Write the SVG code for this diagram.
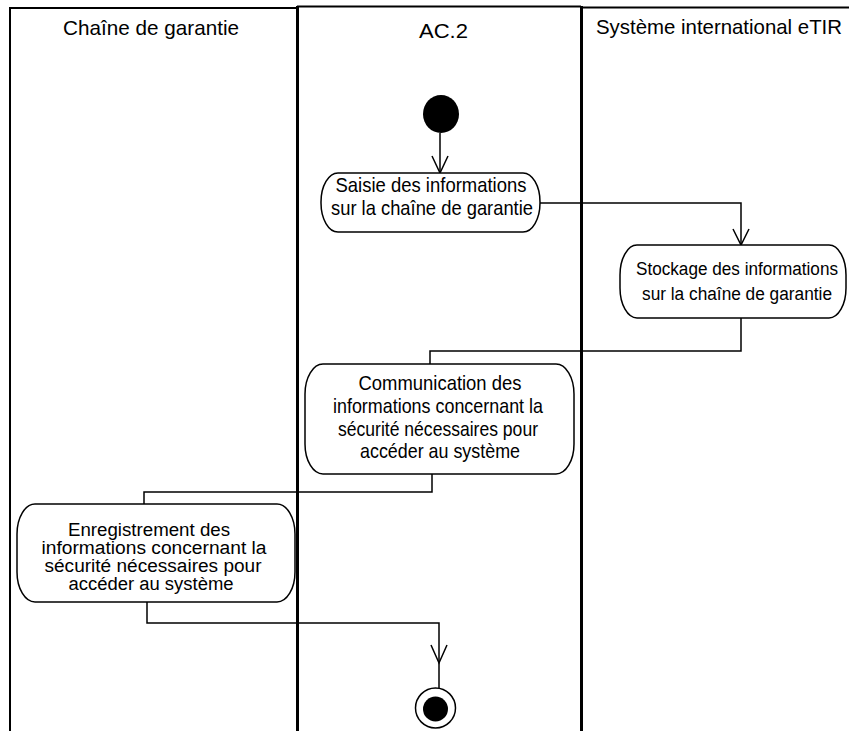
<svg xmlns="http://www.w3.org/2000/svg" width="849" height="731" viewBox="0 0 849 731">
<style>
  .lane{fill:none;stroke:#000;stroke-width:2}
  .div{fill:none;stroke:#000;stroke-width:3}
  .act{fill:#fff;stroke:#000;stroke-width:1.5}
  .t{font-family:"Liberation Sans",Arial,sans-serif;font-size:21px;fill:#000;text-anchor:middle}
  .t2{font-family:"Liberation Sans",Arial,sans-serif;font-size:18px;fill:#000;text-anchor:middle}
  .t4{font-family:"Liberation Sans",Arial,sans-serif;font-size:18px;fill:#000;text-anchor:middle}
  .c{fill:none;stroke:#000;stroke-width:1.5}
</style>
<rect width="849" height="731" fill="#fff"/>
<g id="lanes">
  <path class="lane" d="M10,731 V8 H297 M297,6.5 H581 M581,7.5 H849"/>
  <line class="div" x1="297.5" y1="6" x2="297.5" y2="731"/>
  <line class="div" x1="581.5" y1="6" x2="581.5" y2="731"/>
  <text class="t" x="151" y="35" textLength="176" lengthAdjust="spacingAndGlyphs">Chaîne de garantie</text>
  <text class="t" x="443.5" y="38" textLength="49" lengthAdjust="spacingAndGlyphs">AC.2</text>
  <text class="t" x="719" y="34" textLength="246" lengthAdjust="spacingAndGlyphs">Système international eTIR</text>
</g>
<g id="connectors">
  <path class="c" d="M440,133 V173"/>
  <path class="c" d="M432,156 L440,173 L448,156"/>
  <path class="c" d="M540,203 H741 V245"/>
  <path class="c" d="M733,229 L741,245 L749,229"/>
  <path class="c" d="M741,318 V351 H430 V364"/>
  <path class="c" d="M432,474 V492 H144 V504"/>
  <path class="c" d="M147,602 V623 H439 V688"/>
  <path class="c" d="M431,645 L439,663 L447,645"/>
</g>
<g id="start">
  <ellipse cx="441" cy="114" rx="18" ry="19" fill="#000"/>
</g>
<g id="saisie">
  <rect class="act" x="321" y="173" width="219" height="59" rx="17" ry="29"/>
  <text class="t" x="431" y="192" textLength="191" lengthAdjust="spacingAndGlyphs">Saisie des informations</text>
  <text class="t" x="432" y="215" textLength="202" lengthAdjust="spacingAndGlyphs">sur la chaîne de garantie</text>
</g>
<g id="stockage">
  <rect class="act" x="620" y="245" width="226" height="73" rx="17" ry="30"/>
  <text class="t2" x="737" y="275" textLength="202" lengthAdjust="spacingAndGlyphs">Stockage des informations</text>
  <text class="t2" x="737" y="300" textLength="190" lengthAdjust="spacingAndGlyphs">sur la chaîne de garantie</text>
</g>
<g id="communication">
  <rect class="act" x="305" y="364" width="269" height="110" rx="18" ry="30"/>
  <text class="t" x="440" y="390" textLength="163" lengthAdjust="spacingAndGlyphs">Communication des</text>
  <text class="t" x="438" y="413" textLength="210" lengthAdjust="spacingAndGlyphs">informations concernant la</text>
  <text class="t" x="438" y="436" textLength="200" lengthAdjust="spacingAndGlyphs">sécurité nécessaires pour</text>
  <text class="t" x="440" y="458" textLength="160" lengthAdjust="spacingAndGlyphs">accéder au système</text>
</g>
<g id="enregistrement">
  <rect class="act" x="17" y="504" width="278" height="98" rx="18" ry="30"/>
  <text class="t4" x="149" y="536" textLength="162" lengthAdjust="spacingAndGlyphs">Enregistrement des</text>
  <text class="t4" x="154" y="554" textLength="225" lengthAdjust="spacingAndGlyphs">informations concernant la</text>
  <text class="t4" x="153" y="572" textLength="217" lengthAdjust="spacingAndGlyphs">sécurité nécessaires pour</text>
  <text class="t4" x="151" y="590" textLength="165" lengthAdjust="spacingAndGlyphs">accéder au système</text>
</g>
<g id="end">
  <circle cx="435.5" cy="708" r="20" fill="#fff" stroke="#000" stroke-width="1.5"/>
  <circle cx="435.5" cy="709" r="12.5" fill="#000"/>
</g>
</svg>
